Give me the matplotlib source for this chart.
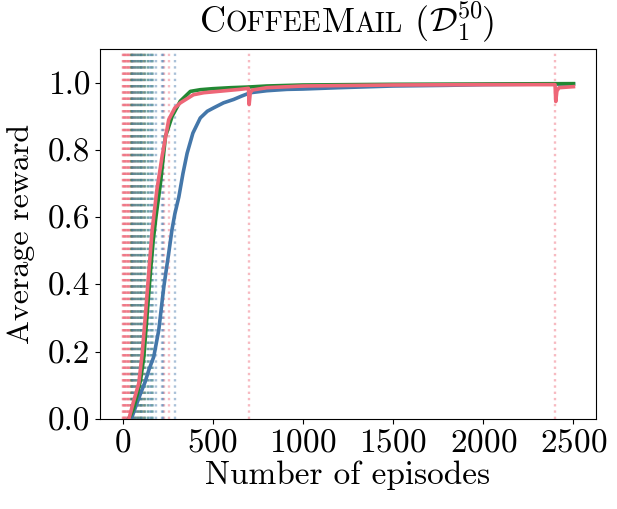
import matplotlib
matplotlib.use("Agg")
import matplotlib.pyplot as plt

plt.rcParams['font.family'] = 'serif'
plt.rcParams['font.serif'] = ['cmr10']
plt.rcParams['mathtext.fontset'] = 'cm'
plt.rcParams['axes.formatter.use_mathtext'] = True

# ---- data ----
ep_blue = [35, 53, 75, 100, 125, 146, 173, 201, 229, 256, 274, 290, 312, 335, 358, 390, 431, 470,
           505, 560, 616, 660, 708, 800, 911, 1000, 1200, 1500, 1800, 2000, 2200, 2400, 2500]
r_blue = [0.0, 0.007, 0.04, 0.076, 0.11, 0.146, 0.185, 0.265, 0.394, 0.493, 0.5625, 0.61, 0.66,
          0.73, 0.79, 0.85, 0.895, 0.915, 0.925, 0.94, 0.95, 0.96, 0.97, 0.976, 0.98, 0.981,
          0.985, 0.99, 0.992, 0.994, 0.995, 0.996, 0.996]

ep_green = [35, 60, 80, 100, 118, 136, 155, 170, 185, 210, 238, 275, 320, 376, 431, 500, 600,
            700, 800, 1000, 1500, 2000, 2500]
r_green = [0.0, 0.03, 0.07, 0.116, 0.185, 0.31, 0.44, 0.53, 0.60, 0.70, 0.84, 0.90, 0.945, 0.974,
           0.979, 0.982, 0.985, 0.987, 0.99, 0.993, 0.995, 0.996, 0.997]

ep_red = [35, 60, 90, 109, 127, 146, 155, 164, 190, 219, 256, 290, 321, 393, 450, 550, 650, 698,
          702, 708, 720, 800, 1000, 1500, 2000, 2398, 2402, 2408, 2420, 2500]
r_red = [0.0, 0.05, 0.106, 0.195, 0.31, 0.44, 0.50, 0.56, 0.68, 0.78, 0.89, 0.925, 0.94, 0.964,
         0.97, 0.975, 0.98, 0.983, 0.935, 0.97, 0.978, 0.985, 0.99, 0.993, 0.994, 0.994, 0.944,
         0.975, 0.985, 0.988]

events_red = [0, 4, 8, 12, 16, 20, 24, 28, 32, 36, 40, 45, 50, 60, 70, 85, 100, 120, 230, 258,
              700, 2400]
events_green = [45, 55, 65, 75, 85, 95, 105, 115, 125, 140, 165]
events_blue = [50, 60, 70, 80, 90, 100, 110, 125, 140, 150, 160, 170, 188, 216, 225, 293]

c_blue = '#4477AA'
c_green = '#228833'
c_red = '#EE6677'

fig = plt.figure(figsize=(6.17, 5.09), dpi=100)
ax = fig.add_axes([100/617, 1-419/509, 496/617, 370/509])

for evs, c in [(events_red, c_red), (events_green, c_green), (events_blue, c_blue)]:
    for e in evs:
        ax.axvline(e, color=c, linestyle=':', linewidth=1.7, alpha=0.45, zorder=1)

ax.plot(ep_blue, r_blue, color=c_blue, linewidth=2.6, zorder=3)
ax.plot(ep_green, r_green, color=c_green, linewidth=2.6, zorder=4)
ax.plot(ep_red, r_red, color=c_red, linewidth=2.6, zorder=5)

ax.set_xlim(-125, 2625)
ax.set_ylim(0, 1.1)
ax.set_xticks([0, 500, 1000, 1500, 2000, 2500])
ax.set_yticks([0.0, 0.2, 0.4, 0.6, 0.8, 1.0])
ax.set_yticklabels(['0.0', '0.2', '0.4', '0.6', '0.8', '1.0'])
ax.tick_params(labelsize=24)
ax.set_xlabel('Number of episodes', fontsize=24, labelpad=2)
ax.set_ylabel('Average reward', fontsize=23)
ax.yaxis.set_label_coords(-0.131, 0.5)

# title with small caps emulation
big = 26
small = 20
pieces = [('C', big), ('OFFEE', small), ('M', big), ('AIL', small), (' (', big),
          (r'$\mathcal{D}_1^{50}$', 25), (')', big)]
fig.canvas.draw()
renderer = fig.canvas.get_renderer()
texts = []
widths = []
for s, sz in pieces:
    t = fig.text(0, 0, s, fontsize=sz, ha='left', va='baseline')
    bb = t.get_window_extent(renderer=renderer)
    texts.append(t)
    widths.append(bb.width)
total = sum(widths)
x0 = 348 - total / 2
ybase = 509 - 32
for t, w in zip(texts, widths):
    t.set_position((x0 / 617, ybase / 509))
    x0 += w

fig.savefig('out.png', dpi=100)
